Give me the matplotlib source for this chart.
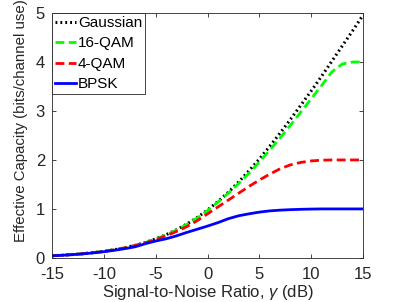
import numpy as np
import matplotlib
matplotlib.use("Agg")
import matplotlib.pyplot as plt

plt.rcParams['font.family'] = ['Liberation Sans', 'DejaVu Sans']
plt.rcParams['mathtext.fontset'] = 'custom'
plt.rcParams['mathtext.it'] = 'Liberation Sans:italic'
plt.rcParams['mathtext.rm'] = 'Liberation Sans'
plt.rcParams['axes.unicode_minus'] = False

#============ data ============
snr_db = [-15, -14, -13, -12, -11, -10, -9, -8, -7, -6, -5, -4, -3, -2, -1, 0,
          1, 2, 3, 4, 5, 6, 7, 8, 9, 10, 11, 12, 13, 14, 15]

gaussian = [0.044, 0.055, 0.069, 0.087, 0.108, 0.134, 0.167, 0.207, 0.256, 0.316,
            0.388, 0.473, 0.574, 0.691, 0.826, 0.978, 1.15, 1.34, 1.55, 1.78,
            2.02, 2.28, 2.55, 2.83, 3.12, 3.41, 3.71, 4.02, 4.33, 4.64, 4.96]

qam16 = [0.044, 0.055, 0.069, 0.087, 0.108, 0.134, 0.167, 0.206, 0.255, 0.314,
         0.385, 0.469, 0.568, 0.683, 0.815, 0.965, 1.14, 1.32, 1.52, 1.73,
         1.96, 2.20, 2.45, 2.71, 2.98, 3.25, 3.52, 3.80, 3.96, 4.0, 4.0]

qam4 = [0.044, 0.055, 0.069, 0.086, 0.107, 0.133, 0.165, 0.204, 0.251, 0.307,
        0.374, 0.451, 0.539, 0.637, 0.76, 0.90, 1.04, 1.18, 1.32, 1.46,
        1.59, 1.71, 1.82, 1.90, 1.95, 1.98, 1.995, 2.0, 2.0, 2.0, 2.0]

bpsk = [0.043, 0.054, 0.067, 0.083, 0.103, 0.127, 0.155, 0.188, 0.226, 0.29,
        0.345, 0.39, 0.45, 0.52, 0.585, 0.65, 0.72, 0.80, 0.86, 0.90,
        0.935, 0.96, 0.975, 0.985, 0.992, 0.997, 1.0, 1.0, 1.0, 1.0, 1.0]

labels = ['Gaussian', '16-QAM', '4-QAM', 'BPSK']
#===================================================

fig = plt.figure(figsize=(4.03, 3.02), dpi=100)
ax = fig.add_axes([0.129, 0.146, 0.772, 0.811])

ax.plot(snr_db, gaussian, color='black', linestyle=(0, (0.6, 1.0)), linewidth=2.2,
        label=labels[0])
ax.plot(snr_db, qam16, color='#00ff00', linestyle=(0, (3.2, 1.6)), linewidth=2,
        label=labels[1])
ax.plot(snr_db, qam4, color='red', linestyle=(0, (3.2, 1.6)), linewidth=2,
        label=labels[2])
ax.plot(snr_db, bpsk, color='blue', linestyle='-', linewidth=2, label=labels[3])

ax.set_xlim(-15, 15)
ax.set_ylim(0, 5)
ax.set_xticks([-15, -10, -5, 0, 5, 10, 15])
ax.set_yticks([0, 1, 2, 3, 4, 5])

ax.tick_params(direction='in', top=True, right=True, length=3, width=0.6,
               labelsize=12, colors='#262626')
ax.tick_params(axis='x', pad=6.5)
ax.tick_params(axis='y', pad=5)
for s in ax.spines.values():
    s.set_color('#262626')
    s.set_linewidth(0.6)

ax.set_xlabel(r'Signal-to-Noise Ratio, $\gamma$ (dB)', fontsize=12, color='#262626')
ax.xaxis.set_label_coords(0.5, -0.103)
ax.set_ylabel('Effective Capacity (bits/channel use)', fontsize=10.8, color='#262626')
ax.yaxis.set_label_coords(-0.077, 0.56)

leg = ax.legend(loc='upper left', borderaxespad=0, fontsize=11, handlelength=1.35,
                handletextpad=0.15, labelspacing=0.42, borderpad=0.2,
                fancybox=False, framealpha=1, edgecolor='#262626')
leg.get_frame().set_linewidth(0.6)

fig.savefig('out.png', dpi=100)
